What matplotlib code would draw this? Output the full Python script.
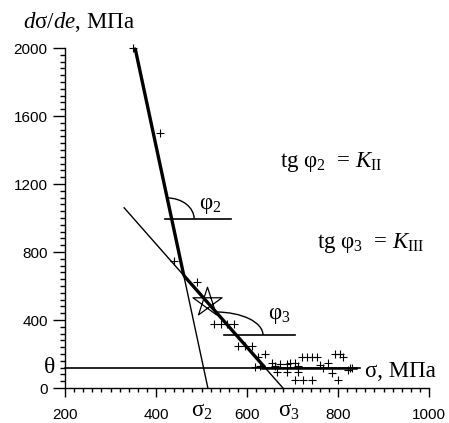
import matplotlib
matplotlib.use('Agg')
import matplotlib.pyplot as plt
import numpy as np
from matplotlib.patches import Arc
from matplotlib.path import Path
from matplotlib.ticker import MultipleLocator

plt.rcParams['font.family'] = ['Liberation Serif', 'DejaVu Serif']
plt.rcParams['mathtext.fontset'] = 'custom'
plt.rcParams['mathtext.rm'] = 'Liberation Serif'
plt.rcParams['mathtext.it'] = 'Liberation Serif:italic'

# ---- data ----
sigma = [349, 409, 440, 490, 527, 542, 557, 572, 580, 596, 611, 624, 640,
         618, 629, 655, 662, 673, 688, 695, 705, 712,
         666, 688, 712, 705, 723, 743,
         721, 732, 743, 754, 760, 767, 778, 787,
         793, 804, 811, 800, 822, 826, 831]
dsde = [2000, 1500, 747, 624, 376, 376, 376, 376, 247, 247, 247, 182, 200,
        124, 129, 147, 129, 141, 141, 147, 147, 129,
        94, 94, 94, 47, 47, 47,
        182, 182, 182, 182, 135, 118, 147, 88,
        200, 200, 182, 47, 106, 118, 118]

steep_x = [354, 514]      # stage II line (sigma2 at zero)
steep_y = [2000, 0]
shallow_x = [330, 679]    # stage III line (sigma3 at zero)
shallow_y = [1060, 0]
theta_level = 120
theta_x = [200, 848]
theta_thick_x = [632, 840]
star_pt = (512, 506)
phi2_ref = dict(y=994, y_start=1118, x0=420, x1=565)
phi3_ref = dict(y=312, y_start=447, x0=549, x1=705)

xticks = [200, 400, 600, 800, 1000]
yticks = [0, 400, 800, 1200, 1600, 2000]

# ---- figure ----
W, H, DPI = 449, 423, 100
fig = plt.figure(figsize=(W / DPI, H / DPI), dpi=DPI)
ax = fig.add_axes([65 / W, 35 / H, 364 / W, 340 / H])
ax.set_xlim(200, 1000)
ax.set_ylim(0, 2000)
sx = 364 / 800.0
sy = 340 / 2000.0

for s in ['top', 'right']:
    ax.spines[s].set_visible(False)
for s in ['left', 'bottom']:
    ax.spines[s].set_linewidth(1.0)

ax.set_xticks(xticks)
ax.set_xticklabels([str(v) for v in xticks], fontfamily='Liberation Sans', fontsize=11)
ax.set_yticks(yticks)
ax.set_yticklabels([str(v) for v in yticks], fontfamily='Liberation Sans', fontsize=11)
ax.xaxis.set_minor_locator(MultipleLocator(20))
ax.yaxis.set_minor_locator(MultipleLocator(40))
ax.tick_params(axis='y', which='major', length=8.5, width=1, pad=4)
ax.tick_params(axis='y', which='minor', length=3.8, width=1)
ax.tick_params(axis='x', which='major', length=6.5, width=1, pad=8)
ax.tick_params(axis='x', which='minor', length=3.0, width=1)


def line_x_at(xs, ys, y):
    return xs[0] + (y - ys[0]) * (xs[1] - xs[0]) / (ys[1] - ys[0])


# intersection of the two lines
ms = (steep_x[1] - steep_x[0]) / (steep_y[1] - steep_y[0])
mh = (shallow_x[1] - shallow_x[0]) / (shallow_y[1] - shallow_y[0])
yi = (shallow_x[0] - steep_x[0] + ms * steep_y[0] - mh * shallow_y[0]) / (ms - mh)
xi = line_x_at(steep_x, steep_y, yi)

# thin full lines
ax.plot(steep_x, steep_y, color='k', lw=1.0, clip_on=False)
ax.plot(shallow_x, shallow_y, color='k', lw=1.0, clip_on=False)
# thick fitted portions
ax.plot([steep_x[0], xi], [steep_y[0], yi], color='k', lw=2.4, solid_capstyle='butt')
xe = line_x_at(shallow_x, shallow_y, theta_level)
ax.plot([xi, xe], [yi, theta_level], color='k', lw=2.4, solid_capstyle='butt')

# theta level
ax.plot(theta_x, [theta_level, theta_level], color='k', lw=1.2, clip_on=False)
ax.plot(theta_thick_x, [theta_level, theta_level], color='k', lw=1.8)

# data points
ax.plot(sigma, dsde, linestyle='none', marker='+', ms=5.5, mew=0.8, color='k', clip_on=False)

# star
ang = np.deg2rad(90 + 144 * np.arange(5))
verts = list(zip(np.cos(ang), np.sin(ang))) + [(0, 0)]
star = Path(verts, [Path.MOVETO] + [Path.LINETO] * 4 + [Path.CLOSEPOLY])
ax.plot([star_pt[0]], [star_pt[1]], marker=star, ms=22, mfc='none', mec='k', mew=0.9)


def angle_mark(xs, ys, ref, rx_px):
    ax.plot([ref['x0'], ref['x1']], [ref['y'], ref['y']], color='k', lw=1.2)
    xc = line_x_at(xs, ys, ref['y_start'])
    hy = ref['y_start'] - ref['y']
    arc = Arc((xc, ref['y']), 2 * rx_px / sx, 2 * hy, theta1=0, theta2=90,
              color='k', lw=1.0)
    ax.add_patch(arc)


angle_mark(steep_x, steep_y, phi2_ref, 27)
angle_mark(shallow_x, shallow_y, phi3_ref, 47)

FS = 16.5
# labels
ax.text(519, 1076, 'φ$_2$', fontsize=FS, ha='center', va='center')
ax.text(672, 424, 'φ$_3$', fontsize=FS, ha='center', va='center')
ax.text(672, 1300, 'tg φ$_2$  = $K_{\\rm II}$', fontsize=FS, ha='left', va='baseline')
ax.text(754, 824, 'tg φ$_3$  = $K_{\\rm III}$', fontsize=FS, ha='left', va='baseline')

ax.annotate('σ, МПа', xy=(859, theta_level), xycoords='data', xytext=(0, -3),
            textcoords='offset points', fontsize=FS, ha='left', va='center', annotation_clip=False)
ax.annotate('θ', xy=(0, theta_level), xycoords=('axes fraction', 'data'), xytext=(-11, 0),
            textcoords='offset points', fontsize=17, ha='center', va='center', annotation_clip=False)
ax.annotate('σ$_2$', xy=(steep_x[1], 0), xytext=(-4, -21), textcoords='offset points',
            fontsize=FS, ha='center', va='baseline', annotation_clip=False)
ax.annotate('σ$_3$', xy=(shallow_x[1], 0), xytext=(4, -21), textcoords='offset points',
            fontsize=FS, ha='center', va='baseline', annotation_clip=False)

fig.text(23 / W, 1 - 28 / H, '$d$σ/$de$, МПа', fontsize=FS, ha='left', va='baseline')

fig.savefig('out.png', dpi=DPI)
